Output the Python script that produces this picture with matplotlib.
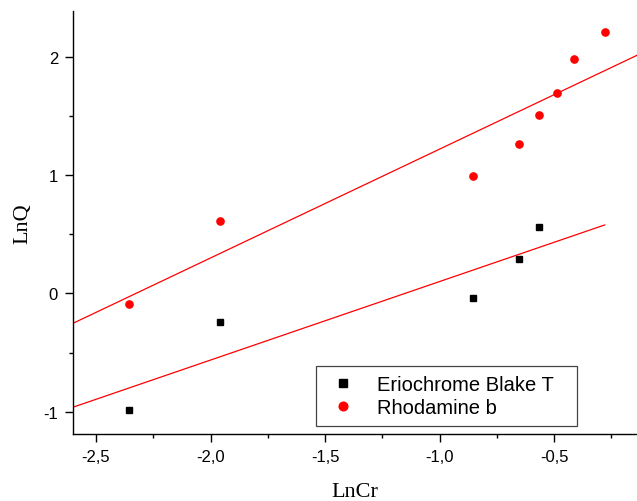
#!/usr/bin/env python3

import numpy as np
import matplotlib
matplotlib.use("Agg")
import matplotlib.pyplot as plt
from matplotlib.ticker import MultipleLocator, FuncFormatter

# values.
x_erio = [-2.355, -1.958, -0.855, -0.654, -0.568]
y_erio = [-0.99, -0.24, -0.036, 0.288, 0.56]
x_rhod = [-2.355, -1.958, -0.855, -0.654, -0.568, -0.488, -0.411, -0.279]
y_rhod = [-0.093, 0.61, 0.994, 1.265, 1.511, 1.695, 1.986, 2.212]
series_names = ["Eriochrome Blake T", "Rhodamine b"]
x_limits = (-2.602, -0.138)
y_limits = (-1.19, 2.395)

plt.rcParams["axes.unicode_minus"] = False
sans = ["Liberation Sans", "DejaVu Sans"]
serif = ["Liberation Serif", "DejaVu Serif"]

fig = plt.figure(figsize=(6.37, 5.02), dpi=100)
ax = fig.add_axes([72.7 / 637, 1 - 435 / 502, 1 - 72.7 / 637, (435 - 11.7) / 502])

# scatter points.
ax.plot(x_erio, y_erio, ls="none", marker="s", ms=4.4, color="black", label=series_names[0])
ax.plot(x_rhod, y_rhod, ls="none", marker="o", ms=5.2, color="#ff0000", mec="#ff0000", label=series_names[1])

# linear fits, both drawn in red.
k1, b1 = np.polyfit(x_erio, y_erio, 1)
k2, b2 = np.polyfit(x_rhod, y_rhod, 1)
fx1 = np.array([x_limits[0], max(x_rhod)])
fx2 = np.array([x_limits[0], x_limits[1] + 0.1])
ax.plot(fx1, k1 * fx1 + b1, color="#ff0000", lw=0.9)
ax.plot(fx2, k2 * fx2 + b2, color="#ff0000", lw=0.9)

ax.set_xlim(*x_limits)
ax.set_ylim(*y_limits)

# axes styling.
for side in ["top", "right"]:
    ax.spines[side].set_visible(False)
for side in ["left", "bottom"]:
    ax.spines[side].set_linewidth(1.0)
ax.xaxis.set_major_locator(MultipleLocator(0.5))
ax.xaxis.set_minor_locator(MultipleLocator(0.25))
ax.yaxis.set_major_locator(MultipleLocator(1))
ax.yaxis.set_minor_locator(MultipleLocator(0.5))
ax.xaxis.set_major_formatter(FuncFormatter(lambda v, p: f"{v:.1f}".replace(".", ",")))
ax.yaxis.set_major_formatter(FuncFormatter(lambda v, p: f"{int(round(v))}"))
ax.tick_params(which="major", direction="out", length=5.5, width=1.0, labelsize=12, pad=5)
ax.tick_params(which="minor", direction="out", length=3, width=1.0)
for lab in ax.get_xticklabels() + ax.get_yticklabels():
    lab.set_family(sans)

ax.set_xlabel("LnCr", family=serif, fontsize=16, labelpad=13)
ax.set_ylabel("LnQ", family=serif, fontsize=16, labelpad=8)

# legend box.
leg = ax.legend(loc="lower left", bbox_to_anchor=(0.4306, 0.0182, 0.4637, 0.1418), mode="expand",
                borderaxespad=0, fancybox=False, framealpha=1, edgecolor="#444444",
                prop={"family": sans, "size": 14.5}, borderpad=0.45, handlelength=1.85,
                handletextpad=0.75, labelspacing=0.2, markerscale=1.2)
leg.get_frame().set_linewidth(0.9)

fig.savefig("out.png", dpi=100)
